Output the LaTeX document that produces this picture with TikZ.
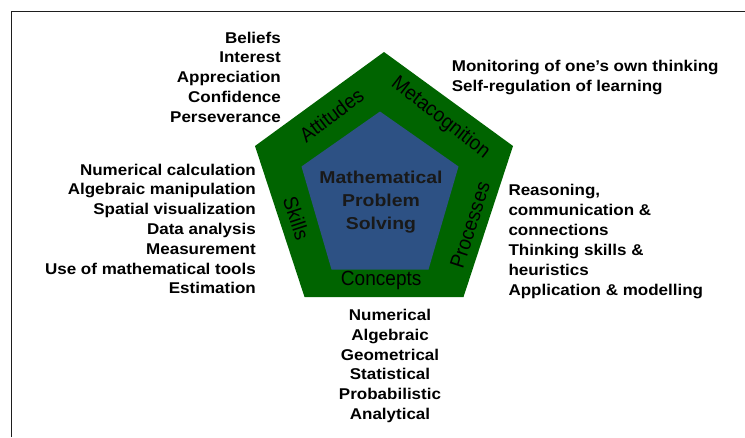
\documentclass[tikz,border=0pt]{standalone}
\usepackage{fontspec}
\setmainfont{Liberation Sans}
\newfontfamily\listfont{Liberation Sans}[FakeStretch=1.09]
\newfontfamily\corefont{Liberation Sans}[FakeStretch=1.13]
\newfontfamily\ringfont{Liberation Sans}[FakeStretch=0.93]
\definecolor{ringgreen}{HTML}{006400}
\definecolor{coreblue}{HTML}{2D5184}
\definecolor{framegray}{HTML}{1E1E1E}
\begin{document}
\begin{tikzpicture}[x=1pt,y=-1pt,
  listR/.style={font=\listfont\bfseries\fontsize{15.6}{19.8}\selectfont, inner sep=0pt, align=right, anchor=north east},
  listL/.style={font=\listfont\bfseries\fontsize{15.6}{20}\selectfont, inner sep=0pt, align=left, anchor=north west},
  listC/.style={font=\listfont\bfseries\fontsize{15.6}{19.9}\selectfont, inner sep=0pt, align=center, anchor=north},
  ringlabel/.style={font=\ringfont\fontsize{20.5}{22}\selectfont, inner sep=0pt, text=black},
  corelabel/.style={font=\corefont\bfseries\fontsize{17.2}{23.3}\selectfont, inner sep=0pt, align=center, anchor=north, text=black!90}
]
\useasboundingbox (0,0) rectangle (745,437);
% frame
\draw[framegray, line width=1.8pt] (11.5,437) -- (11.5,11.5) -- (745,11.5);
% outer pentagon
\coordinate (o1) at (384,52);
\coordinate (o2) at (513,146);
\coordinate (o3) at (463.5,297);
\coordinate (o4) at (304.5,297);
\coordinate (o5) at (255,146);
\fill[ringgreen] (o1) -- (o2) -- (o3) -- (o4) -- (o5) -- cycle;
% inner pentagon
\coordinate (i1) at (380,111.5);
\coordinate (i2) at (458.5,166.5);
\coordinate (i3) at (428.5,269.5);
\coordinate (i4) at (331.5,269.5);
\coordinate (i5) at (301.5,166.5);
\fill[coreblue] (i1) -- (i2) -- (i3) -- (i4) -- (i5) -- cycle;
% core text
\node[corelabel] (core) at (381,170.5) {Mathematical\\Problem\\Solving};
% ring labels
\node[ringlabel, rotate=37] (attitudes) at (331.5,115) {Attitudes};
\node[ringlabel, rotate=-38] (metacog) at (440.5,118) {Metacognition};
\node[ringlabel, rotate=72] (processes) at (470,225) {Processes};
\node[ringlabel, rotate=-72] (skills) at (296.5,218.5) {Skills};
\node[ringlabel, anchor=base] (concepts) at (381.2,285.7) {Concepts};
% lists
\node[listR] (attlist) at (281,31.5) {Beliefs\\Interest\\Appreciation\\Confidence\\Perseverance};
\node[listL] (metalist) at (451.7,60.2) {Monitoring of one’s own thinking\\Self-regulation of learning};
\node[listR] (skilllist) at (256,163.5) {Numerical calculation\\Algebraic manipulation\\Spatial visualization\\Data analysis\\Measurement\\Use of mathematical tools\\Estimation};
\node[listL] (proclist) at (508.3,184.4) {Reasoning,\\communication \&\\connections\\Thinking skills \&\\heuristics\\Application \& modelling};
\node[listC] (conclist) at (390,308.7) {Numerical\\Algebraic\\Geometrical\\Statistical\\Probabilistic\\Analytical};
\end{tikzpicture}
\end{document}
